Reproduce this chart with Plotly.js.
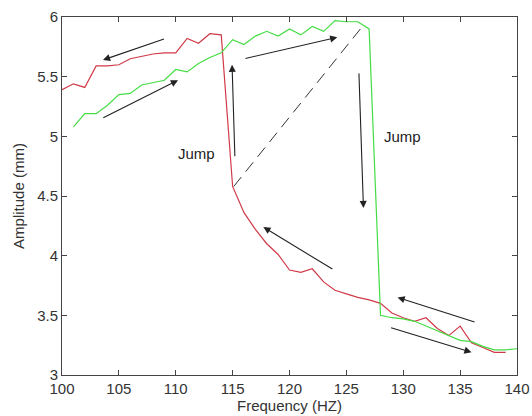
<!DOCTYPE html>
<html>
<head>
<meta charset="utf-8">
<script src="https://cdn.plot.ly/plotly-3.0.1.min.js"></script>
<style>html,body{margin:0;padding:0;background:#fff;}#chart{width:532px;height:416px;}</style>
</head>
<body>
<div id="chart"></div>
<script>
// Downward sweep (red)
const redFreq = [100,101,102,103,104,105,106,107,108,109,110,111,112,113,114,115,116,117,118,119,120,121,122,123,124,125,126,127,128,129,130,131,132,133,134,135,136,137,138,139];
const redAmp  = [5.39,5.44,5.41,5.59,5.59,5.60,5.65,5.67,5.69,5.70,5.70,5.82,5.78,5.86,5.85,4.58,4.36,4.22,4.10,4.01,3.88,3.86,3.89,3.78,3.71,3.68,3.65,3.63,3.60,3.52,3.48,3.45,3.48,3.39,3.33,3.41,3.27,3.23,3.19,3.19];
// Upward sweep (green)
const greenFreq = [101,102,103,104,105,106,107,108,109,110,111,112,113,114,115,116,117,118,119,120,121,122,123,124,125,126,127,128,129,130,131,132,133,134,135,136,137,138,139,140];
const greenAmp  = [5.08,5.19,5.19,5.26,5.35,5.36,5.43,5.45,5.47,5.56,5.54,5.61,5.66,5.70,5.81,5.77,5.84,5.88,5.84,5.90,5.85,5.92,5.88,5.97,5.96,5.96,5.90,3.50,3.48,3.47,3.45,3.41,3.37,3.33,3.29,3.28,3.24,3.21,3.21,3.22];

const xTicks = [100,105,110,115,120,125,130,135,140];
const yTicks = [3,3.5,4,4.5,5,5.5,6];

// Arrows: tail (x0,y0) -> head (x1,y1)
const arrowX0 = [109.1,103.5,115.2,116.0,126.1,123.9,136.4,128.8];
const arrowY0 = [5.82,5.15,4.82,5.65,5.54,3.88,3.44,3.40];
const arrowX1 = [103.6,110.2,114.95,124.2,126.5,117.7,129.5,136.0];
const arrowY1 = [5.64,5.47,5.60,5.83,4.40,4.24,3.65,3.19];

// Dashed jump line
const dashX = [115.1,126.4];
const dashY = [4.58,5.92];

const labelText = ['Jump','Jump'];
const labelX = [111.8,129.9];
const labelY = [4.86,5.00];

const font = 'Liberation Sans, Arial, sans-serif';

const traces = [
  {x: redFreq, y: redAmp, mode:'lines', line:{color:'#d03a48', width:1.2}, hoverinfo:'skip'},
  {x: greenFreq, y: greenAmp, mode:'lines', line:{color:'#44dd44', width:1.2}, hoverinfo:'skip'}
];

const annotations = [];
for (let i = 0; i < arrowX0.length; i++) {
  annotations.push({x: arrowX1[i], y: arrowY1[i], ax: arrowX0[i], ay: arrowY0[i],
    xref:'x', yref:'y', axref:'x', ayref:'y', text:'', showarrow:true,
    arrowhead:2, arrowsize:1.3, arrowwidth:1.1, arrowcolor:'#222'});
}
for (let i = 0; i < labelText.length; i++) {
  annotations.push({x: labelX[i], y: labelY[i], xref:'x', yref:'y', text: labelText[i],
    showarrow:false, font:{family:font, size:15, color:'#222'}});
}

const layout = {
  width:532, height:416,
  margin:{l:62, r:15, t:17, b:41},
  paper_bgcolor:'#fff', plot_bgcolor:'#fff',
  showlegend:false,
  font:{family:font, size:15, color:'#333'},
  xaxis:{range:[100,140], tickvals:xTicks, ticktext:xTicks.map(String),
    ticks:'inside', ticklen:5, tickcolor:'#444', showline:true, linecolor:'#444', linewidth:1,
    mirror:'ticks', showgrid:false, zeroline:false,
    title:{text:'Frequency (HZ)', font:{family:font, size:15, color:'#333'}, standoff:2},
    tickfont:{family:font, size:15, color:'#333'}},
  yaxis:{range:[3,6], tickvals:yTicks, ticktext:yTicks.map(String),
    ticks:'inside', ticklen:5, tickcolor:'#444', showline:true, linecolor:'#444', linewidth:1,
    mirror:'ticks', showgrid:false, zeroline:false,
    title:{text:'Amplitude (mm)', font:{family:font, size:15, color:'#333'}, standoff:8},
    tickfont:{family:font, size:15, color:'#333'}},
  shapes:[{type:'line', xref:'x', yref:'y', x0:dashX[0], y0:dashY[0], x1:dashX[1], y1:dashY[1],
    line:{color:'#333', width:1, dash:'12px,7px'}}],
  annotations: annotations
};

Plotly.newPlot('chart', traces, layout, {displayModeBar:false, staticPlot:true});
</script>
</body>
</html>
